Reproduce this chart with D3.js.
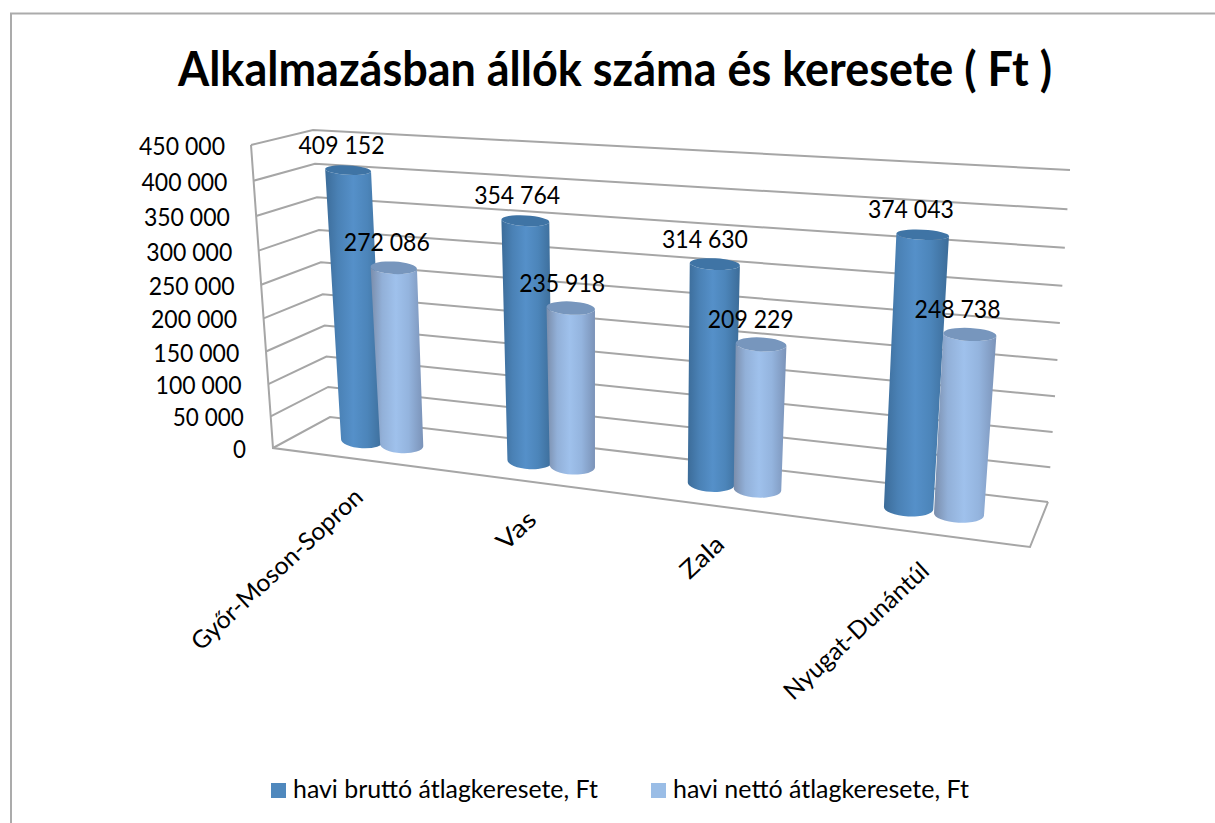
<!DOCTYPE html>
<html><head><meta charset="utf-8">
<script src="https://cdnjs.cloudflare.com/ajax/libs/d3/7.8.5/d3.min.js"></script>
<style>html,body{margin:0;padding:0;background:#fff}svg{display:block}text{font-family:Lato,Carlito,Calibri,sans-serif;fill:#000}</style>
</head><body><svg id="c" width="1215" height="823"></svg>
<script>
const titleText = "Alkalmazásban állók száma és keresete ( Ft )";
const categories = ["Győr-Moson-Sopron","Vas","Zala","Nyugat-Dunántúl"];
const seriesNames = ["havi bruttó átlagkeresete, Ft","havi nettó átlagkeresete, Ft"];
const brutto = [409152,354764,314630,374043];
const netto = [272086,235918,209229,248738];
const yTicks = [0,50000,100000,150000,200000,250000,300000,350000,400000,450000];
const categoryLabelLengths = [224,44,50,188];

const svg = d3.select("#c");
const GRID = "#a6a6a6";
// frame
svg.append("path").attr("d","M11,823V13.5H1215").attr("fill","none").attr("stroke","#ababab").attr("stroke-width",2);

// 3D box corners: [u][v][t]
const C = {
 "000":[273,448],"001":[251,145],
 "010":[330,417],"011":[313,130],
 "110":[1048,502],"111":[1070,170],
 "100":[1030,547],"101":[1058,197]
};
const lerp = (a,b,s)=>[a[0]+(b[0]-a[0])*s,a[1]+(b[1]-a[1])*s];
function P(u,v,t){
  const b = lerp(lerp(C["000"],C["100"],u),lerp(C["010"],C["110"],u),v);
  const a = lerp(lerp(C["001"],C["101"],u),lerp(C["011"],C["111"],u),v);
  return lerp(b,a,t);
}
const yLinear = d3.scaleLinear().domain([0,450000]).range([0,1]);
const yScale = v => { const t=yLinear(v); return t/(t+1.07*(1-t)); };
const persp = u => u/(u+1.18*(1-u));
const uBand = d3.scaleBand().domain(categories).range([0,1]);
const uOff = d3.scalePoint().domain(seriesNames).range([-0.029,0.0315]);
const line = d3.line();

// gridlines
const grid = svg.append("g").attr("fill","none").attr("stroke",GRID).attr("stroke-width",2);
grid.selectAll("path.g").data(yTicks).join("path").attr("class","g")
  .attr("d",d=>{const t=yScale(d);return line([P(0,0,t),P(0,1,t),P(1,1,t)]);});
grid.append("path").attr("d",line([P(0,0,1),P(0,0,0),P(1,0,0),P(1,1,0)]));

// tick labels
const tickX = d3.scaleLinear().domain([0,1]).range([246,225]);
const tickY = d3.scaleLinear().domain([0,1]).range([450,147]);
const fmt = v => d3.format(",")(v).replace(/,/g," ");
function fit(sel,len){sel.attr("textLength",len).attr("lengthAdjust","spacingAndGlyphs");return sel;}
svg.append("g").selectAll("text").data(yTicks).join("text")
  .attr("x",d=>tickX(yScale(d))).attr("y",d=>tickY(yScale(d))+8).attr("text-anchor","end").attr("font-size",24.5)
  .text(fmt).each(function(d){ fit(d3.select(this), fmt(d).length===1?13:(fmt(d).length===6?71:86)); });

// defs
const defs = svg.append("defs");
function grad(id,stops){
  const g=defs.append("linearGradient").attr("id",id).attr("x1",0).attr("x2",1).attr("y1",0).attr("y2",0);
  stops.forEach(s=>g.append("stop").attr("offset",s[0]).attr("stop-color",s[1]));
}
grad("g0",[[0,"#3c6c99"],[.22,"#4a81b5"],[.48,"#5590c9"],[.72,"#4c85ba"],[1,"#3c6c98"]]);
grad("g1",[[0,"#7a8dab"],[.22,"#92b0d8"],[.48,"#9fc1ec"],[.72,"#94b4de"],[1,"#7b93b8"]]);
const topFill = ["#3f74a5","#7796bd"];
const color = d3.scaleOrdinal().domain(seriesNames).range(["url(#g0)","url(#g1)"]);
const topColor = d3.scaleOrdinal().domain(seriesNames).range(topFill);

const rBase = d3.scaleLinear().domain([0,1]).range([21,25.5]);
const tilt = 3*Math.PI/180;
const bars = [];
categories.forEach((c,i)=>{
  [brutto,netto].forEach((arr,j)=>bars.push({c,s:seriesNames[j],v:arr[i]}));
});
const gBars = svg.append("g");
bars.forEach(b=>{
  const u = persp(uBand(b.c)+uBand.bandwidth()/2+uOff(b.s));
  const t = yScale(b.v);
  const base = P(u,.5,0), top = P(u,.5,t);
  const rb = rBase(u), rt = rb+1.6;
  const ryT = 9.2-5*t, ryB = 8.2;
  const cs=Math.cos(tilt), sn=Math.sin(tilt);
  const pt=(c,r,s)=>[c[0]+s*r*cs,c[1]+s*r*sn];
  const tl=pt(top,rt,-1), tr=pt(top,rt,1), bl=pt(base,rb,-1), br=pt(base,rb,1);
  const rotDeg = tilt*180/Math.PI;
  gBars.append("path")
    .attr("d",`M${bl}L${tl}A${rt},${ryT} ${rotDeg} 0 0 ${tr}L${br}A${rb},${ryB} ${rotDeg} 0 1 ${bl}Z`)
    .attr("fill",color(b.s));
  gBars.append("ellipse").attr("cx",top[0]).attr("cy",top[1]).attr("rx",rt).attr("ry",ryT)
    .attr("transform",`rotate(${rotDeg} ${top[0]} ${top[1]})`).attr("fill",topColor(b.s));
  b.lx = top[0]-6-7*u; b.ly = top[1]-24.5;
});

// data labels
svg.append("g").selectAll("text").data(bars).join("text")
  .attr("x",d=>d.lx).attr("y",d=>d.ly+8).attr("text-anchor","middle").attr("font-size",24.5)
  .text(d=>fmt(d.v)).attr("textLength",86).attr("lengthAdjust","spacingAndGlyphs");

// category labels
svg.append("g").selectAll("text").data(categories).join("text")
  .attr("transform",d=>{
    const p=P(persp(uBand(d)+uBand.bandwidth()/2),0,0);
    return `translate(${p[0]+4},${p[1]+34}) rotate(-43)`;
  })
  .attr("text-anchor","end").attr("dy","0.35em").attr("font-size",24.5)
  .text(d=>d)
  .attr("textLength",(d,i)=>categoryLabelLengths[i]).attr("lengthAdjust","spacingAndGlyphs");

// title
svg.append("text").attr("x",615).attr("y",86).attr("text-anchor","middle").attr("font-size",47).attr("font-weight",700)
  .text(titleText).attr("textLength",874).attr("lengthAdjust","spacingAndGlyphs");

// legend
const legendX = d3.scaleOrdinal().domain(seriesNames).range([271,651]);
const legendW = d3.scaleOrdinal().domain(seriesNames).range([305,296]);
const legendFill = d3.scaleOrdinal().domain(seriesNames).range(["#4f88bd","#9abde6"]);
const lg = svg.append("g").selectAll("g").data(seriesNames).join("g");
lg.append("rect").attr("x",d=>legendX(d)).attr("y",783).attr("width",15).attr("height",15).attr("fill",d=>legendFill(d));
lg.append("text").attr("x",d=>legendX(d)+22).attr("y",798).attr("font-size",24.5).text(d=>d)
  .attr("textLength",d=>legendW(d)).attr("lengthAdjust","spacingAndGlyphs");
</script></body></html>
